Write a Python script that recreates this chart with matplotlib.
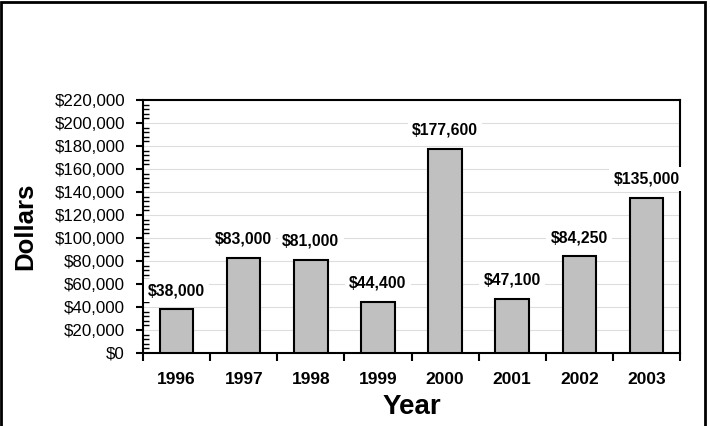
import numpy as np
import matplotlib.pyplot as plt
from matplotlib.ticker import FuncFormatter, MultipleLocator
from matplotlib.patches import Rectangle

plt.rcParams['font.family'] = ['Liberation Sans', 'DejaVu Sans']

years = ['1996', '1997', '1998', '1999', '2000', '2001', '2002', '2003']
dollars = [38000, 83000, 81000, 44400, 177600, 47100, 84250, 135000]
value_labels = ['$38,000', '$83,000', '$81,000', '$44,400', '$177,600',
                '$47,100', '$84,250', '$135,000']

fig = plt.figure(figsize=(7.1, 4.26), dpi=100)
ax = fig.add_axes([143 / 710, 1 - 353 / 426, 537 / 710, 253 / 426])

x = np.arange(len(years))
ax.bar(x, dollars, width=0.5, color='#c0c0c0', edgecolor='black', linewidth=1.5, zorder=2)

ax.set_xlim(-0.5, len(years) - 0.5)
ax.set_ylim(0, 220000)

# gridlines
ax.yaxis.set_major_locator(MultipleLocator(20000))
ax.yaxis.set_minor_locator(MultipleLocator(4000))
ax.grid(axis='y', color='#dddddd', linewidth=0.8, zorder=0)
ax.set_axisbelow(True)

ax.yaxis.set_major_formatter(FuncFormatter(lambda v, p: '${:,.0f}'.format(v)))
ax.tick_params(axis='y', which='major', direction='out', length=5, width=1.5,
               labelsize=12.2, pad=8)
ax.tick_params(axis='y', which='minor', direction='in', length=4, width=1)

ax.set_xticks(x)
ax.set_xticklabels(years, fontweight='bold')
ax.set_xticks(np.arange(len(years) + 1) - 0.5, minor=True)
ax.tick_params(axis='x', which='major', direction='in', length=5, width=1.5,
               labelsize=12.5, pad=14)
ax.tick_params(axis='x', which='minor', direction='out', length=6, width=1.5)

for s in ax.spines.values():
    s.set_linewidth(1.5)
    s.set_zorder(1)

for xi, v, lab in zip(x, dollars, value_labels):
    ax.annotate(lab, (xi, v), xytext=(0, 8), textcoords='offset points',
                ha='center', va='bottom', fontsize=11.3, fontweight='bold',
                bbox=dict(facecolor='white', edgecolor='none', pad=3), zorder=5)

ax.set_ylabel('Dollars', fontsize=18.5, fontweight='bold', labelpad=12)
ax.set_xlabel('Year', fontsize=20, fontweight='bold', labelpad=5)

fig.patches.append(Rectangle((1.5 / 710, -0.05), 703 / 710, 1.05 - 1.5 / 426,
                             transform=fig.transFigure, fill=False,
                             edgecolor='black', linewidth=2))

fig.savefig('out.png', dpi=100)
